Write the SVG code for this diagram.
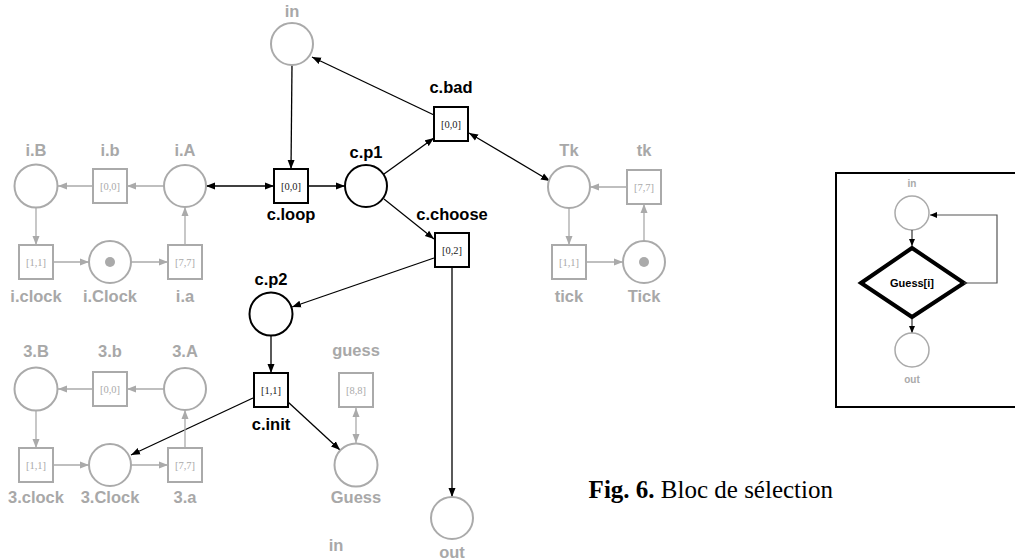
<svg xmlns="http://www.w3.org/2000/svg" width="1015" height="560" viewBox="0 0 1015 560">
  <style>
    .gp { fill: #fff; stroke: #aaa; stroke-width: 2; }
    .bp { fill: #fff; stroke: #000; stroke-width: 2; }
    .tok { fill: #aaa; stroke: none; }
    .lb { font-family: "Liberation Sans", Arial, sans-serif; font-weight: bold; font-size: 16.5px; text-anchor: middle; fill: #000; }
    .lg { fill: #a8a8a8; }
    .tm { font-family: "Liberation Serif", "Times New Roman", serif; font-size: 10.5px; text-anchor: middle; fill: #222; }
    .tg { fill: #aaa; }
    .ab { stroke: #000; stroke-width: 1.3; fill: none; }
    .ag { stroke: #aaa; stroke-width: 1.3; fill: none; }
    .cap { font-family: "Liberation Serif", "Times New Roman", serif; font-size: 25px; fill: #000; }
  </style>
  <defs>
    <marker id="hb" markerUnits="userSpaceOnUse" markerWidth="10" markerHeight="8" refX="9" refY="4" orient="auto-start-reverse">
      <path d="M0,0.5 L9,4 L0,7.5 Z" fill="#000"/>
    </marker>
    <marker id="hg" markerUnits="userSpaceOnUse" markerWidth="10" markerHeight="8" refX="9" refY="4" orient="auto-start-reverse">
      <path d="M0,0.5 L9,4 L0,7.5 Z" fill="#aaa"/>
    </marker>
    <marker id="hs" markerUnits="userSpaceOnUse" markerWidth="8" markerHeight="6" refX="7" refY="3" orient="auto">
      <path d="M0,0 L7,3 L0,6 Z" fill="#000"/>
    </marker>
  </defs>

  <!-- connectors -->
  <g id="connectors">
    <!-- main net -->
    <line class="ab" x1="292" y1="65" x2="291" y2="169" marker-end="url(#hb)"/>
    <line class="ab" x1="206" y1="186" x2="274" y2="186" marker-start="url(#hb)" marker-end="url(#hb)"/>
    <line class="ab" x1="308" y1="186" x2="345" y2="186" marker-end="url(#hb)"/>
    <line class="ab" x1="384" y1="174" x2="434" y2="138" marker-end="url(#hb)"/>
    <line class="ab" x1="434" y1="115" x2="312" y2="57" marker-end="url(#hb)"/>
    <line class="ab" x1="469" y1="133" x2="550" y2="181" marker-start="url(#hb)" marker-end="url(#hb)"/>
    <line class="ab" x1="384" y1="199" x2="434" y2="239" marker-end="url(#hb)"/>
    <line class="ab" x1="434" y1="258" x2="292" y2="307" marker-end="url(#hb)"/>
    <line class="ab" x1="452" y1="268" x2="452" y2="497" marker-end="url(#hb)"/>
    <line class="ab" x1="271" y1="336" x2="271" y2="373" marker-end="url(#hb)"/>
    <line class="ab" x1="253" y1="398" x2="131" y2="455" marker-end="url(#hb)"/>
    <line class="ab" x1="288" y1="402" x2="340" y2="450" marker-end="url(#hb)"/>
    <line class="ag" x1="356" y1="408" x2="356" y2="443" marker-start="url(#hg)" marker-end="url(#hg)"/>

    <!-- i clock loop -->
    <line class="ag" x1="164" y1="186" x2="127" y2="186" marker-end="url(#hg)"/>
    <line class="ag" x1="93" y1="186" x2="58" y2="186" marker-end="url(#hg)"/>
    <line class="ag" x1="36" y1="208" x2="36" y2="245" marker-end="url(#hg)"/>
    <line class="ag" x1="53" y1="262" x2="89" y2="262" marker-end="url(#hg)"/>
    <line class="ag" x1="131" y1="262" x2="168" y2="262" marker-end="url(#hg)"/>
    <line class="ag" x1="185" y1="245" x2="185" y2="207" marker-end="url(#hg)"/>

    <!-- 3 clock loop -->
    <line class="ag" x1="164" y1="389" x2="127" y2="389" marker-end="url(#hg)"/>
    <line class="ag" x1="93" y1="389" x2="58" y2="389" marker-end="url(#hg)"/>
    <line class="ag" x1="36" y1="411" x2="36" y2="448" marker-end="url(#hg)"/>
    <line class="ag" x1="53" y1="465" x2="89" y2="465" marker-end="url(#hg)"/>
    <line class="ag" x1="131" y1="465" x2="168" y2="465" marker-end="url(#hg)"/>
    <line class="ag" x1="185" y1="448" x2="185" y2="410" marker-end="url(#hg)"/>

    <!-- tick loop -->
    <line class="ag" x1="627" y1="187" x2="590" y2="187" marker-end="url(#hg)"/>
    <line class="ag" x1="569" y1="208" x2="569" y2="245" marker-end="url(#hg)"/>
    <line class="ag" x1="586" y1="262" x2="623" y2="262" marker-end="url(#hg)"/>
    <line class="ag" x1="644" y1="241" x2="644" y2="204" marker-end="url(#hg)"/>
  </g>

  <!-- main net nodes -->
  <g id="in"><circle class="gp" cx="292" cy="44" r="21"/><text class="lb lg" x="292" y="17">in</text></g>
  <g id="c.loop"><rect class="bp" x="274" y="169" width="34" height="34"/><text class="tm" x="291" y="190">[0,0]</text><text class="lb" x="291" y="220">c.loop</text></g>
  <g id="c.p1"><circle class="bp" cx="366" cy="186" r="21"/><text class="lb" x="366" y="158">c.p1</text></g>
  <g id="c.bad"><rect class="bp" x="434" y="107" width="34" height="34"/><text class="tm" x="451" y="128">[0,0]</text><text class="lb" x="451" y="93">c.bad</text></g>
  <g id="c.choose"><rect class="bp" x="435" y="233" width="34" height="34"/><text class="tm" x="452" y="254">[0,2]</text><text class="lb" x="452" y="220">c.choose</text></g>
  <g id="c.p2"><circle class="bp" cx="271" cy="314" r="21.5"/><text class="lb" x="271" y="285">c.p2</text></g>
  <g id="c.init"><rect class="bp" x="254" y="373" width="34" height="34"/><text class="tm" x="271" y="394">[1,1]</text><text class="lb" x="271" y="430">c.init</text></g>
  <g id="guess"><rect class="gp" x="339" y="373" width="34" height="34"/><text class="tm tg" x="356" y="394">[8,8]</text><text class="lb lg" x="356" y="356">guess</text></g>
  <g id="Guess"><circle class="gp" cx="356" cy="465" r="21.5"/><text class="lb lg" x="356" y="503">Guess</text></g>
  <g id="out"><circle class="gp" cx="452" cy="518" r="21"/><text class="lb lg" x="452" y="558">out</text></g>
  <g id="in-bottom"><text class="lb lg" x="336" y="551">in</text></g>

  <!-- i clock -->
  <g id="i.B"><circle class="gp" cx="36" cy="186" r="21.5"/><text class="lb lg" x="36" y="156">i.B</text></g>
  <g id="i.b"><rect class="gp" x="93" y="169" width="34" height="34"/><text class="tm tg" x="110" y="190">[0,0]</text><text class="lb lg" x="110" y="156">i.b</text></g>
  <g id="i.A"><circle class="gp" cx="185" cy="186" r="21"/><text class="lb lg" x="185" y="156">i.A</text></g>
  <g id="i.clock"><rect class="gp" x="19" y="245" width="34" height="34"/><text class="tm tg" x="36" y="266">[1,1]</text><text class="lb lg" x="36" y="302">i.clock</text></g>
  <g id="i.Clock"><circle class="gp" cx="110" cy="262" r="21"/><circle class="tok" cx="110" cy="262" r="5"/><text class="lb lg" x="110" y="302">i.Clock</text></g>
  <g id="i.a"><rect class="gp" x="168" y="245" width="34" height="34"/><text class="tm tg" x="185" y="266">[7,7]</text><text class="lb lg" x="185" y="302">i.a</text></g>

  <!-- 3 clock -->
  <g id="3.B"><circle class="gp" cx="36" cy="389" r="21.5"/><text class="lb lg" x="36" y="357">3.B</text></g>
  <g id="3.b"><rect class="gp" x="93" y="372" width="34" height="34"/><text class="tm tg" x="110" y="393">[0,0]</text><text class="lb lg" x="110" y="357">3.b</text></g>
  <g id="3.A"><circle class="gp" cx="185" cy="389" r="21"/><text class="lb lg" x="185" y="357">3.A</text></g>
  <g id="3.clock"><rect class="gp" x="19" y="448" width="34" height="34"/><text class="tm tg" x="36" y="469">[1,1]</text><text class="lb lg" x="36" y="503">3.clock</text></g>
  <g id="3.Clock"><circle class="gp" cx="110" cy="465" r="21"/><text class="lb lg" x="110" y="503">3.Clock</text></g>
  <g id="3.a"><rect class="gp" x="168" y="448" width="34" height="34"/><text class="tm tg" x="185" y="469">[7,7]</text><text class="lb lg" x="185" y="503">3.a</text></g>

  <!-- tick -->
  <g id="Tk"><circle class="gp" cx="569" cy="187" r="21"/><text class="lb lg" x="569" y="156">Tk</text></g>
  <g id="tk"><rect class="gp" x="627" y="170" width="34" height="34"/><text class="tm tg" x="644" y="191">[7,7]</text><text class="lb lg" x="644" y="156">tk</text></g>
  <g id="tick"><rect class="gp" x="552" y="245" width="34" height="34"/><text class="tm tg" x="569" y="266">[1,1]</text><text class="lb lg" x="569" y="302">tick</text></g>
  <g id="Tick"><circle class="gp" cx="644" cy="262" r="21"/><circle class="tok" cx="644" cy="262" r="5"/><text class="lb lg" x="644" y="302">Tick</text></g>

  <!-- caption -->
  <text class="cap" x="833" y="498" text-anchor="end"><tspan font-weight="bold">Fig. 6.</tspan> Bloc de sélection</text>

  <!-- selection block summary -->
  <g id="block">
    <rect x="836" y="173" width="200" height="234" fill="none" stroke="#000" stroke-width="2"/>
    <text x="912" y="187" font-family="Liberation Sans, Arial, sans-serif" font-weight="bold" font-size="10px" text-anchor="middle" fill="#aaa">in</text>
    <circle cx="912" cy="213" r="17" fill="#fff" stroke="#aaa" stroke-width="1.5"/>
    <polygon points="861,283 912,248 964,283 912,317" fill="#fff" stroke="#000" stroke-width="4" stroke-linejoin="miter"/>
    <text x="912" y="287" font-family="Liberation Sans, Arial, sans-serif" font-weight="bold" font-size="11px" text-anchor="middle" fill="#000">Guess[i]</text>
    <line x1="912" y1="230" x2="912" y2="246" stroke="#333" stroke-width="1.2" marker-end="url(#hs)"/>
    <line x1="912" y1="319" x2="912" y2="333" stroke="#333" stroke-width="1.2" marker-end="url(#hs)"/>
    <circle cx="912" cy="350" r="17" fill="#fff" stroke="#aaa" stroke-width="1.5"/>
    <text x="912" y="383" font-family="Liberation Sans, Arial, sans-serif" font-weight="bold" font-size="10px" text-anchor="middle" fill="#aaa">out</text>
    <polyline points="964,283 997,283 997,215 930,215" fill="none" stroke="#555" stroke-width="1.2" marker-end="url(#hs)"/>
  </g>
</svg>
